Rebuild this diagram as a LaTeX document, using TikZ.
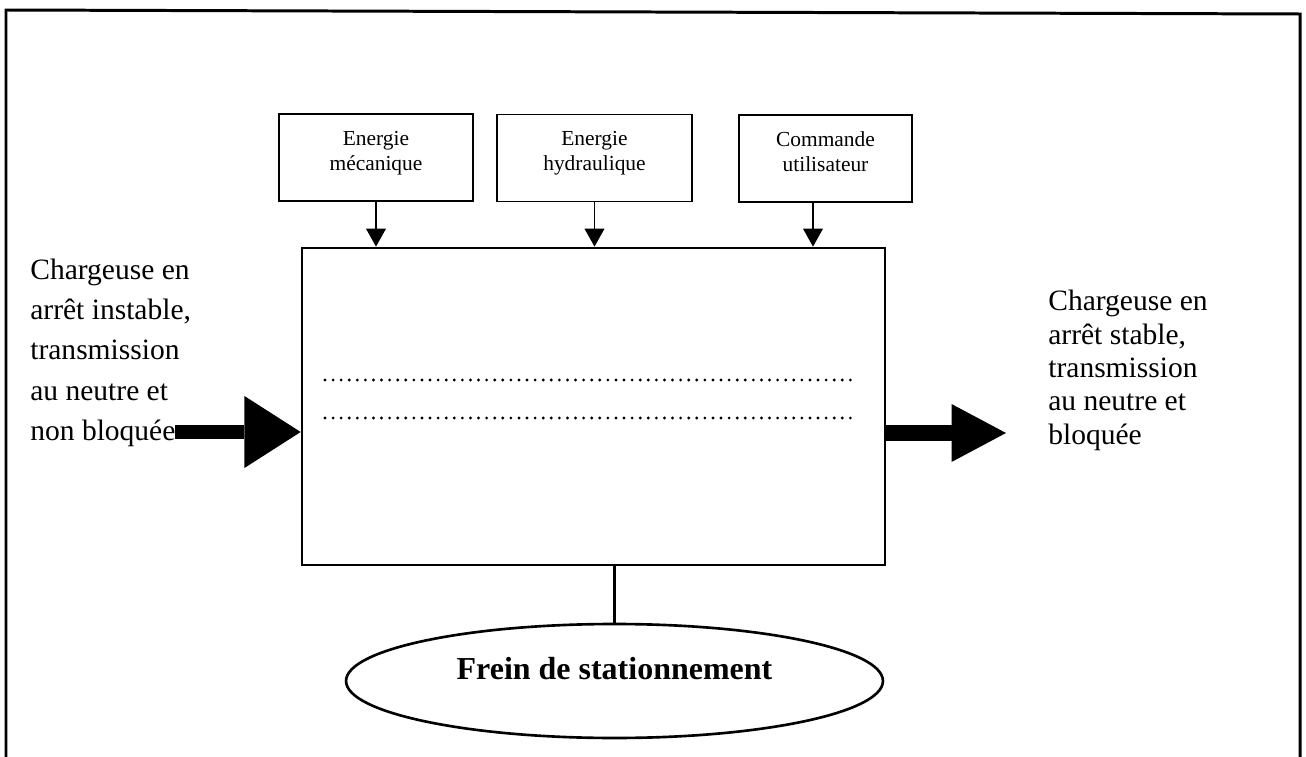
\documentclass[tikz,border=0pt]{standalone}
\usepackage{fontspec}
\setmainfont{Liberation Serif}
\usetikzlibrary{shapes.geometric,arrows.meta}
\begin{document}
\begin{tikzpicture}[x=0.02cm,y=-0.02cm,
  topbox/.style={draw,line width=1.1pt,inner sep=0pt,minimum height=1.74cm},
  toptext/.style={anchor=north,inner sep=0pt,align=center,font=\fontsize{12.2}{14.2}\selectfont},
  mainbox/.style={draw,line width=1.6pt,inner sep=0pt,minimum width=11.66cm,minimum height=6.34cm},
  sidetext/.style={anchor=north west,inner sep=0pt,align=left},
  thinarrow/.style={line width=0.9pt,-{Triangle[width=11.4pt,length=10.2pt,line width=0pt]}},
  leftarrow/.style={line width=8.5pt,-{Triangle[width=41pt,length=32pt,line width=0pt]}},
  rightarrow/.style={line width=9.6pt,-{Triangle[width=33pt,length=31pt,line width=0pt]}},
  dotline/.style={line width=1.8pt,line cap=round,dash pattern=on 0pt off 4.6pt},
  brake/.style={draw,ellipse,line width=1.5pt,inner sep=0pt,minimum width=10.74cm,minimum height=2.28cm,
    font=\bfseries\fontsize{18.2}{20}\selectfont,text height=12.4pt,text depth=13.6pt}]
\useasboundingbox (0,0) rectangle (1306,757);
% outer frame
\draw[line width=1.7pt] (6,757) -- (6,10) -- (1300,14) -- (1300,757);
% top boxes
\node[topbox,minimum width=3.88cm] (e1) at (376,157.5) {};
\node[toptext] (e1t) at (376,131) {Energie\\mécanique};
\node[topbox,minimum width=3.90cm] (e2) at (594.5,158) {};
\node[toptext] (e2t) at (594.5,131) {Energie\\hydraulique};
\node[topbox,minimum width=3.46cm] (e3) at (825.5,158.5) {};
\node[toptext] (e3t) at (825.5,131) {Commande\\utilisateur};
% main box
\node[mainbox] (main) at (593.5,406.5) {};
% arrows into main box
\coordinate (a1) at (e1.south);
\coordinate (a2) at (e2.south);
\coordinate (a3) at (813,202);
\draw[thinarrow] (a1) -- (a1 |- main.north);
\draw[thinarrow] (a2) -- (a2 |- main.north);
\draw[thinarrow] (a3) -- (a3 |- main.north);
% dotted lines
\draw[dotline] (325,380) -- (855,380);
\draw[dotline] (325,418) -- (855,418);
% side texts
\node[sidetext,font=\fontsize{16.8}{22.8}\selectfont] (lt) at (30,259)
  {Chargeuse en\\arrêt instable,\\transmission\\au neutre et\\non bloquée};
\node[sidetext,font=\fontsize{16.8}{19}\selectfont] (rt) at (1048,290)
  {Chargeuse en\\arrêt stable,\\transmission\\au neutre et\\bloquée};
% big arrows
\coordinate (lstart) at (175,432);
\coordinate (rtip) at (1006,433);
\draw[leftarrow] (lstart) -- (lstart -| main.west);
\draw[rightarrow] (rtip -| main.east) -- (rtip);
% brake
\node[brake] (fr) at (614.5,681) {Frein de stationnement};
\draw[line width=1.25pt] (fr.north) -- (fr.north |- main.south);
\end{tikzpicture}
\end{document}
